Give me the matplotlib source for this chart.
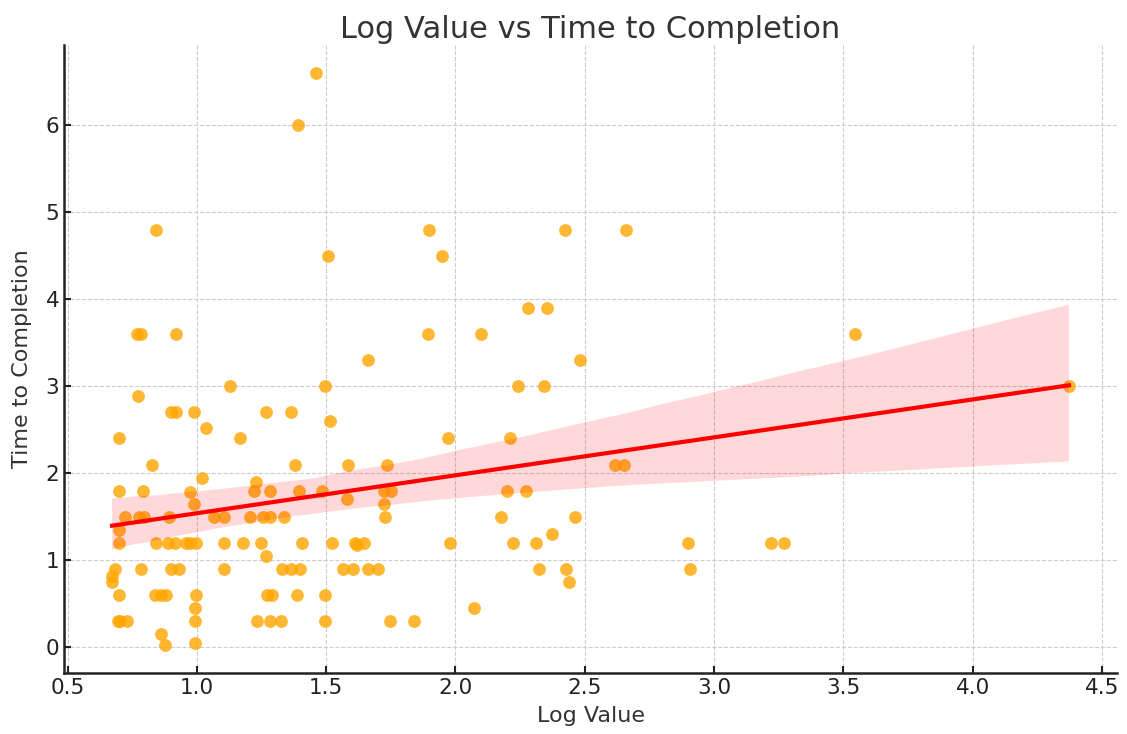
import numpy as np
import pandas as pd
import matplotlib
matplotlib.use("Agg")
import matplotlib.pyplot as plt
import seaborn as sns

# values
log_value = [
    0.769, 0.782, 0.921, 1.128, 0.771, 0.898, 0.921, 0.990, 1.267, 1.365,
    1.035, 0.697, 1.167, 0.828, 1.378, 1.019, 1.228, 0.697, 0.792, 0.972,
    1.219, 1.283, 1.393, 0.989, 0.721, 0.775, 0.795, 0.894, 1.066, 1.104,
    1.207, 1.256, 1.284, 1.338, 0.698, 0.698, 0.841, 0.887, 0.917, 0.959,
    0.972, 0.998, 1.104, 1.177, 1.249, 1.407, 1.266, 0.685, 0.672, 0.672,
    0.783, 0.899, 0.931, 1.105, 1.329, 1.364, 1.397, 0.697, 0.839, 0.863,
    0.881, 0.995, 1.271, 1.289, 1.389, 0.991, 0.694, 0.702, 0.730, 0.994,
    1.234, 1.284, 1.325, 0.860, 0.878, 0.993,
    1.893, 2.097, 1.661, 1.496, 1.513, 1.970, 1.585, 1.737, 1.485, 1.724,
    1.750, 1.581, 1.725, 1.729, 1.524, 1.612, 1.621, 1.646, 1.978, 1.564,
    1.605, 1.662, 1.701, 1.494, 2.070, 1.496, 1.745, 1.841,
    2.280, 2.353, 2.481, 2.243, 2.341, 2.212, 2.616, 2.651, 2.201, 2.272,
    2.178, 2.464, 2.375, 2.223, 2.310, 2.322, 2.428, 2.438,
    1.461, 1.391, 0.842, 1.899, 2.425, 2.658, 1.506, 1.948,
    3.546, 4.373, 2.898, 2.908, 3.221, 3.270,
]
time_to_completion = [
    3.6, 3.6, 3.6, 3.0, 2.89, 2.7, 2.7, 2.7, 2.7, 2.7,
    2.52, 2.4, 2.4, 2.1, 2.1, 1.95, 1.9, 1.8, 1.8, 1.78,
    1.8, 1.8, 1.8, 1.65, 1.5, 1.5, 1.5, 1.5, 1.5, 1.5,
    1.5, 1.5, 1.5, 1.5, 1.35, 1.2, 1.2, 1.2, 1.2, 1.2,
    1.2, 1.2, 1.2, 1.2, 1.2, 1.2, 1.05, 0.9, 0.82, 0.75,
    0.9, 0.9, 0.9, 0.9, 0.9, 0.9, 0.9, 0.6, 0.6, 0.6,
    0.6, 0.6, 0.6, 0.6, 0.6, 0.45, 0.3, 0.3, 0.3, 0.3,
    0.3, 0.3, 0.3, 0.15, 0.03, 0.05,
    3.6, 3.6, 3.3, 3.0, 2.6, 2.4, 2.1, 2.1, 1.8, 1.8,
    1.8, 1.7, 1.65, 1.5, 1.2, 1.2, 1.17, 1.2, 1.2, 0.9,
    0.9, 0.9, 0.9, 0.6, 0.45, 0.3, 0.3, 0.3,
    3.9, 3.9, 3.3, 3.0, 3.0, 2.4, 2.1, 2.1, 1.8, 1.8,
    1.5, 1.5, 1.3, 1.2, 1.2, 0.9, 0.9, 0.75,
    6.6, 6.0, 4.8, 4.8, 4.8, 4.8, 4.5, 4.5,
    3.6, 3.0, 1.2, 0.9, 1.2, 1.2,
]

df = pd.DataFrame({"log_value": log_value,
                   "time_to_completion": time_to_completion})

plt.rcParams['font.family'] = ['DejaVu Sans']
text_color = '#333333'

fig = plt.figure(figsize=(11.27, 7.34), dpi=100)
ax = fig.add_axes([0.057, 0.083, 0.934, 0.856])

sns.regplot(data=df, x="log_value", y="time_to_completion", ax=ax,
            seed=3,
            scatter_kws={"color": "orange", "s": 85, "alpha": 0.8,
                         "linewidths": 0},
            line_kws={"color": "red", "lw": 3})

ax.set_title("Log Value vs Time to Completion", fontsize=22,
             color=text_color, pad=5)
ax.set_xlabel("Log Value", fontsize=16, color=text_color, labelpad=6)
ax.set_ylabel("Time to Completion", fontsize=16, color=text_color,
              labelpad=10)
ax.tick_params(direction='in', labelsize=15.5, labelcolor='#222222',
               color='#222222', width=1.5, length=5)
ax.grid(True, linestyle='--', color='#cccccc', linewidth=0.8)
ax.set_axisbelow(True)
for side in ['top', 'right']:
    ax.spines[side].set_visible(False)
for side in ['left', 'bottom']:
    ax.spines[side].set_linewidth(1.8)
    ax.spines[side].set_color('#222222')

fig.savefig("out.png", dpi=100)
